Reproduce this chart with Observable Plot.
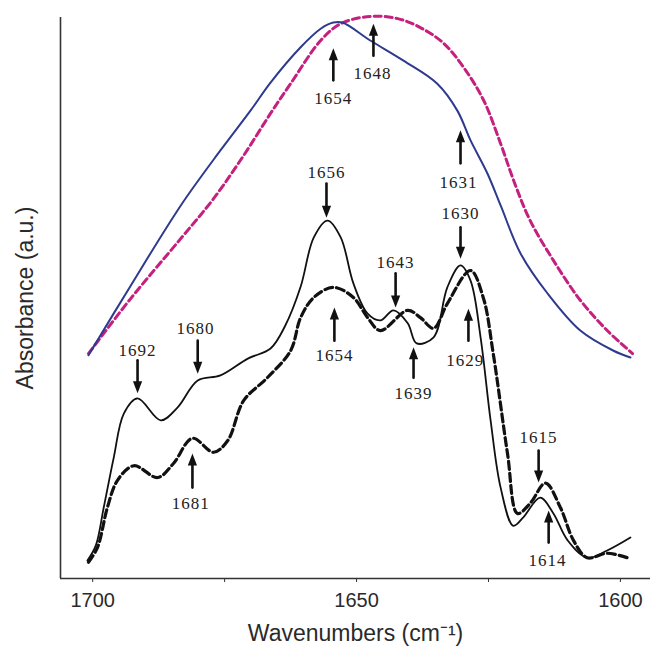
<!DOCTYPE html>
<html>
<head>
<meta charset="utf-8">
<script src="https://cdn.jsdelivr.net/npm/d3@7"></script>
<script src="https://cdn.jsdelivr.net/npm/@observablehq/plot@0.6"></script>
<style>
  html, body { margin: 0; padding: 0; background: #fff; }
  #chart svg { display: block; }
  #chart g[aria-label="text"] text { letter-spacing: 1px; }
</style>
</head>
<body>
<div id="chart"></div>
<script>
// ---- axes ----
const xDomain = [1706.1, 1594.3];
const yDomain = [0, 100];
const xTicks = [1700, 1675, 1650, 1625, 1600];
const xTickLabels = ["1700", "", "1650", "", "1600"];
const xTitle = "Wavenumbers (cm\u207B\u00B9)";
const yTitle = "Absorbance (a.u.)";

// ---- blue solid (upper) ----
const blueW = [1700.8, 1692.8, 1683.3, 1675.8, 1670.1, 1666.3, 1660.6, 1656.8, 1654.4, 1652.7, 1647.4, 1641.1, 1634.7, 1630.9, 1628.4, 1625.2, 1622.7, 1618.9, 1613.8, 1607.6, 1601.3, 1598.1];
const blueA = [39.8, 52.2, 66.5, 76.3, 83.4, 88.4, 94.7, 98.0, 99.1, 99.1, 95.9, 92.3, 88.2, 83.4, 78.1, 72.2, 66.5, 57.9, 50.8, 44.2, 40.6, 39.4];

// ---- magenta dashed (upper) ----
const pinkW = [1700.8, 1692.8, 1683.3, 1677.1, 1671.4, 1666.3, 1662.5, 1656.8, 1653.0, 1647.4, 1642.2, 1637.9, 1633.5, 1629.7, 1625.9, 1622.7, 1619.9, 1617.1, 1612.7, 1607.6, 1602.5, 1597.7];
const pinkA = [40.1, 49.9, 60.6, 67.7, 75.4, 82.9, 88.2, 95.9, 98.9, 100.2, 99.8, 98.2, 95.4, 91.1, 85.2, 77.5, 70.1, 63.8, 56.7, 49.6, 44.2, 40.1];

// ---- black solid (lower) ----
const solidW = [1701.0, 1699.4, 1697.9, 1696.0, 1694.1, 1691.5, 1687.1, 1683.9, 1680.1, 1675.8, 1670.6, 1666.3, 1663.5, 1660.6, 1658.1, 1655.5, 1653.0, 1650.6, 1647.9, 1645.5, 1643.0, 1640.3, 1638.6, 1635.4, 1632.8, 1630.3, 1628.4, 1626.5, 1624.6, 1622.7, 1620.3, 1618.4, 1615.2, 1612.7, 1610.0, 1606.3, 1602.5, 1598.1];
const solidA = [3.2, 5.9, 12.7, 21.6, 29.4, 32.1, 28.2, 30.5, 35.3, 36.2, 39.2, 41.0, 45.1, 52.0, 60.8, 63.8, 60.8, 52.6, 47.2, 46.0, 47.8, 45.5, 41.9, 43.0, 51.9, 55.8, 53.1, 43.0, 28.2, 16.2, 9.4, 10.9, 14.4, 11.6, 6.8, 3.7, 5.0, 7.3];

// ---- black dashed (lower) ----
const dashW = [1700.8, 1699.1, 1697.2, 1695.3, 1692.2, 1687.7, 1684.7, 1681.1, 1677.1, 1674.4, 1671.4, 1666.9, 1662.5, 1660.6, 1658.1, 1654.4, 1650.6, 1647.9, 1645.5, 1640.3, 1637.9, 1635.4, 1632.8, 1628.4, 1626.0, 1624.1, 1621.4, 1619.5, 1617.1, 1614.2, 1611.4, 1608.9, 1606.3, 1602.5, 1598.7];
const dashA = [2.9, 5.5, 12.7, 17.5, 20.1, 18.0, 20.5, 25.0, 22.5, 24.6, 31.7, 35.8, 40.6, 46.5, 50.1, 51.9, 50.1, 46.5, 44.2, 47.8, 46.5, 44.6, 49.0, 54.9, 50.1, 40.1, 22.3, 11.6, 13.4, 17.0, 12.7, 6.8, 3.7, 4.5, 3.7];

// ---- peak annotations ----
const annLabels = ["1654", "1648", "1631", "1656", "1643", "1654", "1680", "1692", "1681", "1639", "1630", "1629", "1615", "1614"];
const annX      = [1654.4, 1646.8, 1630.3, 1655.7, 1642.6, 1654.2, 1680.1, 1691.5, 1681.1, 1639.2, 1630.3, 1628.8, 1615.5, 1613.6];
const annTextX  = [1654.4, 1647.0, 1630.7, 1655.7, 1642.6, 1654.2, 1680.5, 1691.5, 1681.4, 1639.2, 1630.3, 1629.4, 1615.5, 1613.8];
const annTail   = [88.8, 93.2, 74.0, 70.4, 54.4, 42.4, 42.4, 38.9, 16.2, 35.8, 62.6, 42.4, 22.8, 6.4];
const annTip    = [94.5, 98.9, 79.9, 64.3, 48.3, 48.3, 36.5, 33.0, 22.3, 41.2, 57.0, 48.1, 17.1, 12.1];
const annTextY  = [85.6, 90.0, 70.6, 72.4, 56.3, 39.8, 44.6, 40.6, 13.4, 33.0, 65.1, 38.9, 25.1, 3.2];

const toRows = (w, a) => w.map((x, i) => ({w: x, a: a[i]}));
const blue = toRows(blueW, blueA);
const pink = toRows(pinkW, pinkA);
const solid = toRows(solidW, solidA);
const dashed = toRows(dashW, dashA);
const ann = annLabels.map((t, i) => ({
  t, x: annX[i], tx: annTextX[i], tail: annTail[i], tip: annTip[i], ty: annTextY[i],
  up: annTip[i] > annTail[i]
}));

// filled arrow heads with apex at the anchor point
const headUp = {draw(ctx) { ctx.moveTo(0, 0); ctx.lineTo(4.6, 12); ctx.lineTo(-4.6, 12); ctx.closePath(); }};
const headDown = {draw(ctx) { ctx.moveTo(0, 0); ctx.lineTo(4.6, -12); ctx.lineTo(-4.6, -12); ctx.closePath(); }};

const chart = Plot.plot({
  width: 650,
  height: 648,
  marginLeft: 60,
  marginRight: 0,
  marginTop: 17,
  marginBottom: 70,
  x: {domain: xDomain},
  y: {domain: yDomain},
  style: {fontFamily: "'Liberation Sans', Arial, sans-serif", color: "#2a2a2a", background: "#fff"},
  marks: [
    Plot.axisX({ticks: xTicks, tickFormat: d => xTickLabels[xTicks.indexOf(d)], tickSize: 4, tickPadding: 10, label: null, fontSize: 20, stroke: "#333"}),
    Plot.axisX({ticks: [], label: xTitle, labelAnchor: "center", labelArrow: "none", labelOffset: 62, fontSize: 23}),
    Plot.axisY({ticks: [], label: yTitle, labelAnchor: "center", labelArrow: "none", labelOffset: 44, fontSize: 23}),
    Plot.ruleY([yDomain[0]], {stroke: "#333", strokeWidth: 1.6}),
    Plot.ruleX([xDomain[0]], {stroke: "#333", strokeWidth: 1.6}),
    Plot.line(pink, {x: "w", y: "a", curve: "catmull-rom", stroke: "#c4217f", strokeWidth: 3, strokeDasharray: "7,4"}),
    Plot.line(blue, {x: "w", y: "a", curve: "catmull-rom", stroke: "#2d3a8e", strokeWidth: 2}),
    Plot.line(dashed, {x: "w", y: "a", curve: "catmull-rom", stroke: "#111", strokeWidth: 3.2, strokeDasharray: "8,4"}),
    Plot.line(solid, {x: "w", y: "a", curve: "catmull-rom", stroke: "#111", strokeWidth: 1.8}),
    Plot.arrow(ann, {x1: "x", y1: "tail", x2: "x", y2: "tip", headLength: 0, insetEnd: 8, stroke: "#111", strokeWidth: 2.6}),
    Plot.dot(ann.filter(d => d.up), {x: "x", y: "tip", symbol: headUp, fill: "#111", stroke: "none"}),
    Plot.dot(ann.filter(d => !d.up), {x: "x", y: "tip", symbol: headDown, fill: "#111", stroke: "none"}),
    Plot.text(ann, {x: "tx", y: "ty", text: "t", fontFamily: "'Liberation Serif', 'Times New Roman', serif", fontSize: 17, fill: "#222"})
  ]
});
document.getElementById("chart").appendChild(chart);
</script>
</body>
</html>
